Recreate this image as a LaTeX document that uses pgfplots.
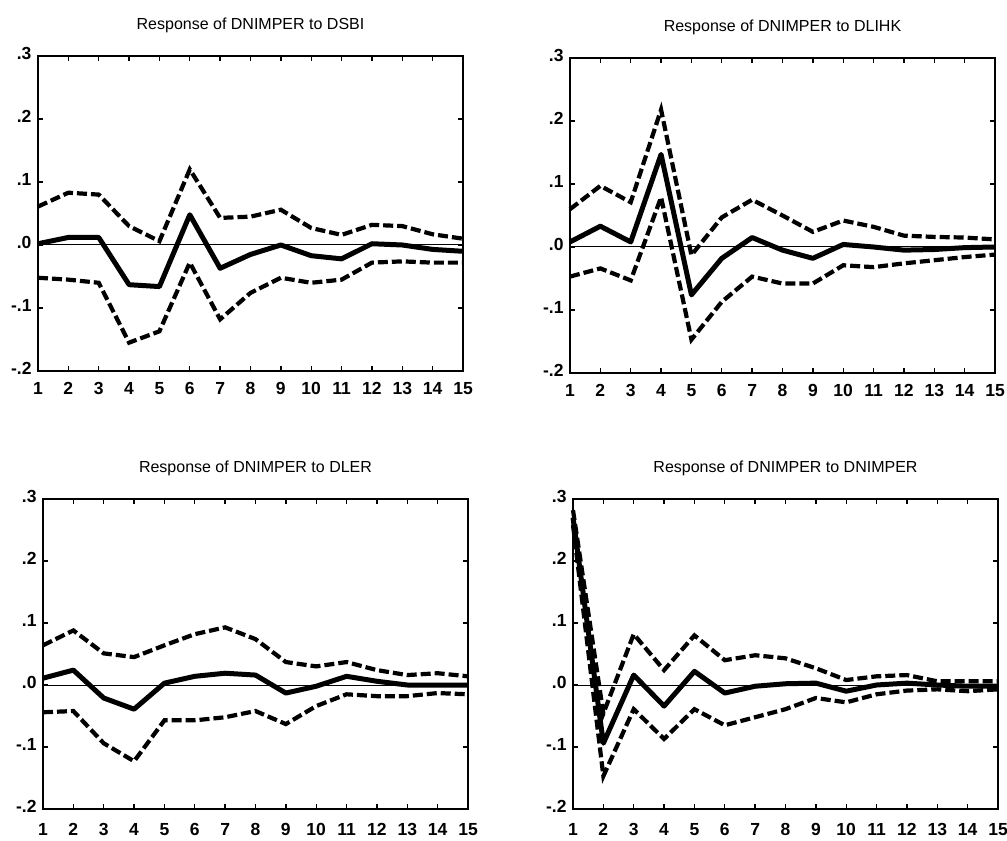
\documentclass[border=0pt]{standalone}
\usepackage{pgfplots}
\pgfplotsset{compat=1.18}
\usepackage{fontspec}
\setmainfont{Liberation Sans}

\pgfplotstableread{
x  s1      u1     l1      s2      u2     l2      s3      u3     l3      s4      u4     l4
1  0.002   0.061  -0.052  0.008   0.060  -0.047  0.011   0.064  -0.044  0.270   0.282  0.258
2  0.012   0.083  -0.055  0.033   0.097  -0.034  0.024   0.088  -0.042  -0.094  -0.046 -0.147
3  0.012   0.080  -0.060  0.008   0.071  -0.053  -0.021  0.051  -0.094  0.016   0.082  -0.039
4  -0.063  0.030  -0.155  0.147   0.218  0.079   -0.039  0.045  -0.123  -0.034  0.024  -0.087
5  -0.066  0.006  -0.137  -0.076  -0.013 -0.147  0.003   0.064  -0.057  0.022   0.080  -0.039
6  0.048   0.120  -0.028  -0.018  0.047  -0.087  0.014   0.082  -0.057  -0.013  0.040  -0.065
7  -0.037  0.043  -0.118  0.015   0.075  -0.047  0.019   0.093  -0.052  -0.002  0.048  -0.052
8  -0.015  0.045  -0.076  -0.005  0.050  -0.058  0.016   0.074  -0.042  0.002   0.043  -0.039
9  0.000   0.056  -0.052  -0.018  0.024  -0.058  -0.013  0.037  -0.063  0.003   0.027  -0.021
10 -0.017  0.027  -0.060  0.004   0.042  -0.029  -0.002  0.030  -0.034  -0.010  0.008  -0.028
11 -0.022  0.016  -0.055  0.000   0.032  -0.032  0.014   0.037  -0.015  0.000   0.014  -0.015
12 0.002   0.032  -0.028  -0.005  0.018  -0.026  0.006   0.024  -0.018  0.003   0.016  -0.009
13 0.000   0.030  -0.026  -0.004  0.016  -0.021  0.000   0.016  -0.018  0.000   0.006  -0.007
14 -0.007  0.017  -0.028  -0.001  0.015  -0.016  0.000   0.019  -0.013  -0.002  0.006  -0.010
15 -0.010  0.010  -0.028  0.000   0.012  -0.012  0.000   0.014  -0.015  -0.002  0.006  -0.007
}\irf

\pgfplotsset{
  irfaxis/.style={
    scale only axis,
    width=425bp, height=315bp,
    xmin=1, xmax=15, ymin=-0.2, ymax=0.3,
    xtick={1,...,15},
    ytick={-0.2,-0.1,0,0.1,0.2,0.3},
    yticklabels={-.2,-.1,.0,.1,.2,.3},
    /pgf/number format/assume math mode=true,
    tick align=inside,
    major tick length=5bp,
    tick style={black, line width=1.4bp},
    axis line style={line width=2bp},
    tick label style={font=\fontsize{17.5bp}{19bp}\selectfont\bfseries},
    xticklabel style={yshift=-8bp},
    yticklabel style={xshift=-3bp, yshift=3bp},
    title style={font=\fontsize{16bp}{18bp}\selectfont, at={(0.5,1)}, anchor=center, yshift=25bp},
    clip=false,
  },
  bottomrow/.style={height=310bp, xticklabel style={yshift=-3bp}},
  solidl/.style={black, line width=5bp, line join=round},
  dashl/.style={black, line width=4.2bp, dash pattern=on 10bp off 4bp},
  zerol/.style={black, line width=1bp},
}

\begin{document}
\begin{tikzpicture}
\path[use as bounding box] (0bp,0bp) rectangle (1007bp,841bp);

\begin{axis}[irfaxis, at={(38bp,470bp)}, anchor=south west, title={Response of DNIMPER to DSBI}]
\addplot[zerol] coordinates {(1,0) (15,0)};
\addplot[dashl] table[x=x,y=u1]{\irf};
\addplot[dashl] table[x=x,y=l1]{\irf};
\addplot[solidl] table[x=x,y=s1]{\irf};
\end{axis}

\begin{axis}[irfaxis, at={(570bp,468bp)}, anchor=south west, title={Response of DNIMPER to DLIHK}]
\addplot[zerol] coordinates {(1,0) (15,0)};
\addplot[dashl] table[x=x,y=u2]{\irf};
\addplot[dashl] table[x=x,y=l2]{\irf};
\addplot[solidl] table[x=x,y=s2]{\irf};
\end{axis}

\begin{axis}[irfaxis, bottomrow, at={(43bp,32bp)}, anchor=south west, title={Response of DNIMPER to DLER}]
\addplot[zerol] coordinates {(1,0) (15,0)};
\addplot[dashl] table[x=x,y=u3]{\irf};
\addplot[dashl] table[x=x,y=l3]{\irf};
\addplot[solidl] table[x=x,y=s3]{\irf};
\end{axis}

\begin{axis}[irfaxis, bottomrow, at={(573bp,32bp)}, anchor=south west, title={Response of DNIMPER to DNIMPER}]
\addplot[zerol] coordinates {(1,0) (15,0)};
\addplot[dashl] table[x=x,y=u4]{\irf};
\addplot[dashl] table[x=x,y=l4]{\irf};
\addplot[solidl] table[x=x,y=s4]{\irf};
\end{axis}
\end{tikzpicture}
\end{document}
